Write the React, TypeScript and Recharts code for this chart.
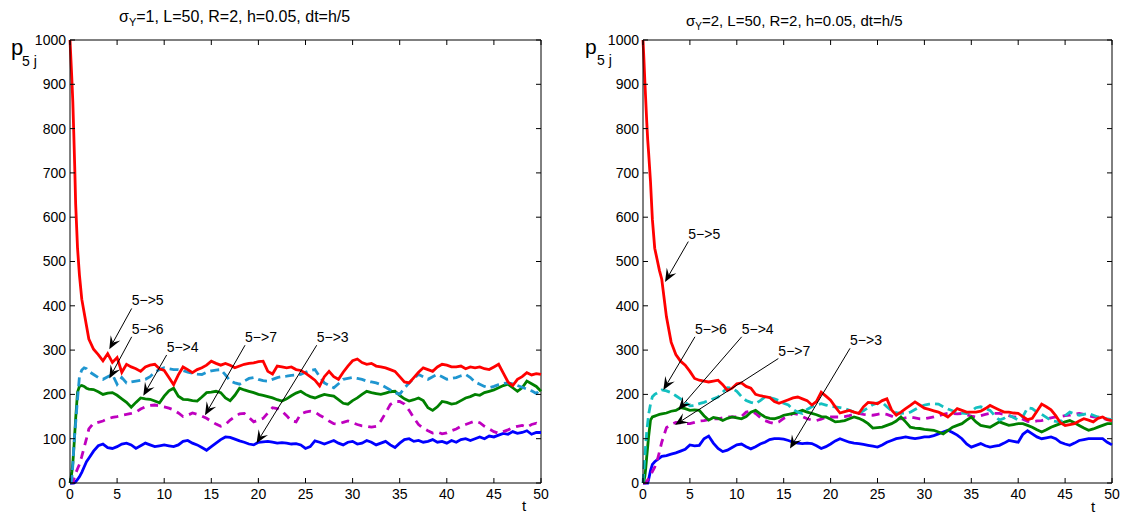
import React from "react";
import { LineChart, Line, XAxis, YAxis, ReferenceLine } from "recharts";

// time grid (finer at the start where the curves move fast)
const T = [
  0, 0.1, 0.2, 0.3, 0.4, 0.5, 0.6, 0.8, 1, 1.25, 1.5, 1.75,
  2, 2.5, 3, 3.5, 4, 4.5, 5, 5.5, 6, 6.5, 7, 7.5, 8, 8.5, 9, 9.5, 10,
  10.5, 11, 11.5, 12, 12.5, 13, 13.5, 14, 14.5, 15, 15.5, 16, 16.5, 17, 17.5, 18, 18.5, 19, 19.5, 20,
  20.5, 21, 21.5, 22, 22.5, 23, 23.5, 24, 24.5, 25, 25.5, 26, 26.5, 27, 27.5, 28, 28.5, 29, 29.5, 30,
  30.5, 31, 31.5, 32, 32.5, 33, 33.5, 34, 34.5, 35, 35.5, 36, 36.5, 37, 37.5, 38, 38.5, 39, 39.5, 40,
  40.5, 41, 41.5, 42, 42.5, 43, 43.5, 44, 44.5, 45, 45.5, 46, 46.5, 47, 47.5, 48, 48.5, 49, 49.5, 50,
];

// sigma_Y = 1
const L_55 = [
  1000, 955, 910, 860, 790, 715, 630, 530, 470, 415, 385, 355,
  325, 302, 290, 276, 292, 272, 283, 250, 268, 262, 258, 252, 262, 266, 268, 258, 254,
  238, 222, 244, 262, 256, 249, 256, 260, 266, 275, 270, 266, 270, 266, 260, 264, 268, 270, 271, 274,
  275, 252, 246, 264, 262, 260, 262, 256, 254, 248, 240, 232, 219, 240, 252, 240, 234, 250, 264, 276,
  280, 272, 268, 270, 264, 262, 260, 256, 252, 240, 228, 226, 238, 250, 260, 256, 252, 262, 268, 266,
  262, 262, 264, 258, 262, 260, 262, 258, 256, 262, 268, 248, 228, 220, 234, 240, 249, 244, 247, 245,
];
const L_56 = [
  0, 0, 10, 40, 80, 110, 135, 190, 240, 255, 260, 258,
  252, 245, 238, 234, 240, 245, 223, 238, 226, 228, 230, 232, 234, 240, 250, 256, 260,
  258, 256, 256, 254, 250, 248, 246, 245, 250, 253, 255, 256, 244, 230, 226, 223, 230, 236, 238, 234,
  231, 230, 234, 238, 240, 241, 243, 244, 245, 250, 254, 256, 240, 226, 220, 215, 224, 234, 236, 238,
  236, 234, 230, 228, 226, 222, 216, 210, 204, 200, 214, 226, 236, 245, 240, 234, 240, 245, 240, 234,
  236, 238, 242, 245, 238, 228, 223, 218, 215, 218, 222, 225, 226, 224, 220, 216, 212, 208, 202, 212,
];
const L_54 = [
  0, 10, 25, 45, 75, 110, 145, 205, 218, 220, 218, 214,
  212, 211, 206, 200, 203, 204, 198, 190, 182, 171, 182, 192, 190, 189, 185, 181, 196,
  208, 214, 196, 189, 188, 186, 185, 194, 204, 205, 207, 204, 192, 186, 198, 214, 210, 207, 204, 200,
  198, 195, 192, 188, 185, 190, 197, 203, 207, 200, 195, 192, 196, 200, 198, 196, 188, 180, 178, 186,
  192, 200, 207, 204, 202, 200, 203, 206, 207, 198, 190, 185, 188, 192, 186, 170, 164, 172, 184, 182,
  178, 180, 186, 192, 195, 200, 198, 204, 207, 210, 215, 220, 223, 215, 207, 215, 230, 224, 218, 207,
];
const L_57 = [
  0, 0, 0, 2, 8, 15, 22, 32, 42, 60, 80, 100,
  122, 135, 137, 140, 145, 148, 150, 153, 155, 157, 160, 167, 172, 175, 176, 174, 172,
  169, 165, 158, 150, 153, 158, 155, 151, 146, 139, 133, 128, 132, 142, 150, 156, 157, 148, 138, 142,
  146, 158, 170, 168, 162, 152, 140, 138, 156, 160, 162, 160, 153, 147, 140, 134, 133, 137, 140, 136,
  132, 129, 128, 126, 128, 140, 158, 177, 184, 184, 178, 164, 147, 132, 124, 118, 113, 115, 111, 113,
  118, 122, 128, 132, 136, 140, 136, 128, 122, 116, 112, 116, 120, 125, 128, 130, 126, 132, 135, 130,
];
const L_53 = [
  0, 0, 0, 0, 0, 1, 3, 8, 14, 24, 36, 48,
  56, 72, 84, 88, 80, 78, 82, 88, 90, 86, 78, 84, 90, 86, 82, 84, 86,
  84, 82, 86, 94, 96, 90, 86, 80, 74, 82, 90, 98, 104, 103, 99, 95, 92, 88, 86, 92,
  93, 94, 92, 90, 91, 90, 88, 89, 86, 78, 82, 95, 92, 88, 92, 96, 90, 86, 92, 94,
  88, 90, 96, 92, 86, 90, 94, 86, 80, 90, 98, 100, 94, 96, 92, 94, 98, 92, 94, 90,
  96, 92, 98, 100, 96, 100, 104, 100, 106, 104, 108, 112, 110, 116, 112, 114, 118, 110, 114, 114,
];

// sigma_Y = 2
const R_55 = [
  1000, 955, 905, 860, 815, 775, 745, 680, 595, 530, 505, 480,
  460, 375, 318, 290, 275, 266, 252, 236, 232, 230, 228, 230, 232, 222, 209, 214, 224,
  226, 218, 214, 200, 197, 195, 193, 184, 180, 184, 188, 192, 194, 190, 186, 176, 184, 205, 196, 187,
  172, 158, 161, 164, 160, 157, 172, 182, 181, 179, 186, 190, 165, 153, 160, 168, 175, 183, 176, 169,
  166, 163, 160, 155, 149, 158, 168, 164, 160, 160, 160, 162, 168, 175, 170, 165, 160, 160, 158, 157,
  150, 143, 146, 162, 178, 172, 165, 152, 136, 130, 132, 134, 140, 145, 142, 138, 146, 149, 143, 141,
];
const R_56 = [
  0, 30, 60, 90, 115, 135, 155, 178, 195, 200, 203, 207,
  210, 208, 204, 197, 190, 182, 174, 175, 179, 182, 186, 190, 194, 205, 215, 214, 207,
  195, 186, 182, 179, 186, 194, 193, 190, 186, 180, 176, 166, 160, 157, 166, 172, 176, 179, 176, 173,
  172, 170, 168, 164, 160, 157, 163, 170, 177, 181, 182, 172, 163, 159, 157, 158, 160, 166, 172, 176,
  178, 179, 178, 172, 167, 163, 160, 158, 157, 162, 170, 172, 168, 164, 152, 142, 146, 153, 148, 142,
  150, 170, 168, 160, 155, 148, 141, 139, 138, 152, 160, 156, 153, 155, 157, 153, 149, 147, 145, 143,
];
const R_54 = [
  0, 5, 15, 35, 60, 82, 105, 142, 149, 151, 153, 155,
  156, 158, 162, 164, 170, 168, 164, 165, 164, 152, 142, 148, 146, 141, 146, 149, 147,
  145, 150, 160, 164, 156, 149, 146, 145, 148, 153, 155, 157, 160, 164, 160, 157, 154, 150, 149, 144,
  138, 139, 141, 145, 149, 146, 141, 134, 124, 125, 126, 130, 134, 140, 149, 138, 126, 124, 123, 121,
  120, 119, 115, 111, 118, 126, 130, 134, 142, 149, 138, 130, 128, 126, 132, 138, 134, 130, 132, 134,
  134, 130, 126, 120, 115, 120, 126, 130, 134, 138, 141, 136, 130, 124, 119, 122, 126, 130, 134, 134,
];
const R_57 = [
  0, 0, 0, 2, 4, 7, 10, 18, 26, 36, 50, 70,
  92, 125, 132, 137, 136, 134, 134, 137, 140, 141, 143, 145, 145, 147, 149, 149, 149,
  150, 160, 163, 157, 148, 141, 137, 134, 138, 146, 150, 157, 155, 150, 145, 142, 141, 144, 148, 149,
  149, 149, 150, 152, 155, 157, 155, 154, 153, 155, 157, 155, 151, 146, 145, 147, 149, 147, 145, 145,
  147, 149, 152, 155, 157, 157, 156, 157, 154, 151, 149, 152, 155, 157, 157, 157, 155, 152, 149, 148,
  144, 139, 138, 140, 141, 144, 147, 149, 150, 152, 153, 155, 157, 155, 152, 149, 148, 146, 143, 141,
];
const R_53 = [
  0, 0, 0, 0, 0, 0, 8, 28, 42, 48, 52, 56,
  60, 62, 65, 68, 72, 76, 86, 84, 85, 100, 106, 90, 78, 71, 74, 80, 86,
  88, 82, 77, 82, 88, 92, 98, 100, 100, 99, 96, 92, 90, 89, 90, 89, 84, 78, 82, 88,
  95, 100, 96, 92, 90, 89, 87, 85, 83, 81, 86, 92, 96, 100, 102, 104, 102, 100, 102, 104,
  104, 107, 111, 115, 119, 114, 108, 100, 88, 81, 85, 89, 84, 81, 83, 85, 90, 96, 94, 92,
  110, 118, 111, 104, 100, 102, 104, 100, 92, 88, 85, 90, 96, 98, 100, 100, 100, 100, 92, 86,
];

const X_TICKS = [0, 5, 10, 15, 20, 25, 30, 35, 40, 45, 50];
const Y_TICKS = [0, 100, 200, 300, 400, 500, 600, 700, 800, 900, 1000];

// arrow annotations: label, tail (t, p), head (t, p)
const LEFT_NOTES = [
  { label: "5−>5", from: [6.55, 394], to: [4.17, 302] },
  { label: "5−>6", from: [6.55, 330], to: [4.17, 236] },
  { label: "5−>4", from: [10.26, 289], to: [7.78, 197] },
  { label: "5−>7", from: [18.58, 311], to: [14.33, 153] },
  { label: "5−>3", from: [26.19, 311], to: [19.8, 90] },
];
const RIGHT_NOTES = [
  { label: "5−>5", from: [4.83, 545], to: [2.35, 454] },
  { label: "5−>6", from: [5.54, 330], to: [2.17, 210] },
  { label: "5−>4", from: [10.52, 330], to: [3.77, 165] },
  { label: "5−>7", from: [14.43, 281], to: [3.41, 131] },
  { label: "5−>3", from: [22.07, 304], to: [15.67, 78] },
];

const FONT = "'Liberation Sans', Arial, Helvetica, sans-serif";
const TOP = 40;
const BOTTOM = 483;
const H = 517;

function Arrow(props: any) {
  const { x1, y1, x2, y2, label } = props;
  const dx = x2 - x1;
  const dy = y2 - y1;
  const len = Math.hypot(dx, dy) || 1;
  const ux = dx / len;
  const uy = dy / len;
  const L = 13;
  const W = 5.5;
  const bx = x2 - ux * L;
  const by = y2 - uy * L;
  const nx = x2 - ux * L * 0.6;
  const ny = y2 - uy * L * 0.6;
  const head = `${x2},${y2} ${bx - uy * W},${by + ux * W} ${nx},${ny} ${bx + uy * W},${by - ux * W}`;
  return (
    <g>
      <line x1={x1} y1={y1} x2={nx} y2={ny} stroke="#000" strokeWidth={1} />
      <polygon points={head} fill="#000" />
      <text x={x1} y={y1 - 3} fontSize={14} fill="#000" fontFamily={FONT}>
        {label}
      </text>
    </g>
  );
}

type PanelProps = {
  data: any[];
  notes: { label: string; from: number[]; to: number[] }[];
  cyan: string;
  width: number;
  marginLeft: number;
  marginRight: number;
};

function Panel({ data, notes, cyan, width, marginLeft, marginRight }: PanelProps) {
  const plotLeft = marginLeft + 40;
  const plotRight = width - marginRight;

  const XTick = (p: any) => (
    <g>
      <line x1={p.x} x2={p.x} y1={BOTTOM} y2={BOTTOM - 5} stroke="#000" />
      <line x1={p.x} x2={p.x} y1={TOP} y2={TOP + 5} stroke="#000" />
      <text x={p.x} y={p.y} dy="0.71em" textAnchor="middle" fontSize={14} fill="#000" fontFamily={FONT}>
        {p.payload.value}
      </text>
    </g>
  );
  const YTick = (p: any) => (
    <g>
      <line x1={plotLeft} x2={plotLeft + 5} y1={p.y} y2={p.y} stroke="#000" />
      <line x1={plotRight} x2={plotRight - 5} y1={p.y} y2={p.y} stroke="#000" />
      <text x={p.x} y={p.y} dy="0.355em" textAnchor="end" fontSize={14} fill="#000" fontFamily={FONT}>
        {p.payload.value}
      </text>
    </g>
  );

  return (
    <LineChart
      width={width}
      height={H}
      data={data}
      margin={{ top: TOP, right: marginRight, bottom: H - BOTTOM - 30, left: marginLeft }}
    >
      <XAxis
        dataKey="t"
        type="number"
        domain={[0, 50]}
        ticks={X_TICKS}
        height={30}
        tickSize={0}
        tickMargin={6}
        tickLine={false}
        axisLine={{ stroke: "#000" }}
        tick={XTick}
        interval={0}
      />
      <YAxis
        type="number"
        domain={[0, 1000]}
        ticks={Y_TICKS}
        width={40}
        tickSize={0}
        tickMargin={4}
        tickLine={false}
        axisLine={{ stroke: "#000" }}
        tick={YTick}
        interval={0}
      />
      <ReferenceLine y={1000} stroke="#000" />
      <ReferenceLine x={50} stroke="#000" />
      <Line type="linear" dataKey="s53" stroke="#0000ff" strokeWidth={2.8} dot={false} isAnimationActive={false} />
      <Line type="linear" dataKey="s57" stroke="#bf00bf" strokeWidth={2.8} strokeDasharray="8 6" dot={false} isAnimationActive={false} />
      <Line type="linear" dataKey="s54" stroke="#008000" strokeWidth={2.8} dot={false} isAnimationActive={false} />
      <Line type="linear" dataKey="s56" stroke={cyan} strokeWidth={2.8} strokeDasharray="9 5" dot={false} isAnimationActive={false} />
      <Line type="linear" dataKey="s55" stroke="#ff0000" strokeWidth={2.8} dot={false} isAnimationActive={false} />
      {notes.map((n) => (
        <ReferenceLine
          key={n.label}
          segment={[
            { x: n.from[0], y: n.from[1] },
            { x: n.to[0], y: n.to[1] },
          ]}
          stroke="#000"
          shape={(sp: any) => <Arrow {...sp} label={n.label} />}
        />
      ))}
    </LineChart>
  );
}

export default function App() {
  const left = T.map((t, i) => ({ t, s55: L_55[i], s56: L_56[i], s54: L_54[i], s57: L_57[i], s53: L_53[i] }));
  const right = T.map((t, i) => ({ t, s55: R_55[i], s56: R_56[i], s54: R_54[i], s57: R_57[i], s53: R_53[i] }));

  return (
    <div style={{ position: "fixed", left: 0, top: 0, width: 1121, height: H, background: "#fff", fontFamily: FONT }}>
      <div style={{ position: "absolute", left: 0, top: 0 }}>
        <Panel data={left} notes={LEFT_NOTES} cyan="#1f96d0" width={560} marginLeft={30} marginRight={19} />
      </div>
      <div style={{ position: "absolute", left: 570, top: 0 }}>
        <Panel data={right} notes={RIGHT_NOTES} cyan="#14c0c0" width={551} marginLeft={33} marginRight={9} />
      </div>
      <svg width={1121} height={H} style={{ position: "absolute", left: 0, top: 0, pointerEvents: "none" }}>
        <g fontFamily={FONT} fill="#000">
          <text x={119} y={22} fontSize={16}>
            σ<tspan fontSize={11} dy={4}>Y</tspan>
            <tspan fontSize={16} dy={-4}>=1, L=50, R=2, h=0.05, dt=h/5</tspan>
          </text>
          <text x={686} y={26} fontSize={15}>
            σ<tspan fontSize={10} dy={4}>Y</tspan>
            <tspan fontSize={15} dy={-4}>=2, L=50, R=2, h=0.05, dt=h/5</tspan>
          </text>
          <text x={11} y={55} fontSize={22}>p</text>
          <text x={22} y={66} fontSize={14}>5 j</text>
          <text x={585} y={54} fontSize={21}>p</text>
          <text x={597} y={65} fontSize={14}>5 j</text>
          <text x={522} y={511} fontSize={15}>t</text>
          <text x={1091} y={512} fontSize={15}>t</text>
        </g>
      </svg>
    </div>
  );
}
